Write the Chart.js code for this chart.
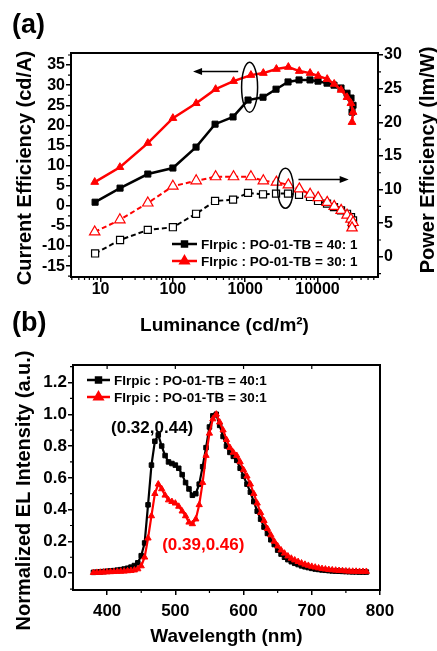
<!DOCTYPE html>
<html><head><meta charset="utf-8">
<script src="https://cdn.jsdelivr.net/npm/chart.js@4"></script>
<style>
html,body{margin:0;padding:0;background:#fff;}
body{width:437px;height:651px;position:relative;overflow:hidden;font-family:"Liberation Sans",Arial,sans-serif;}
canvas{position:absolute;left:0;}
#ca{top:0;}
#cb{top:340px;}
.panel{position:absolute;font-weight:bold;font-size:27px;line-height:30px;color:#000;}
</style></head><body>
<canvas id="ca" width="437" height="340"></canvas>
<canvas id="cb" width="437" height="311"></canvas>
<div class="panel" style="left:12px;top:9px">(a)</div>
<div class="panel" style="left:12px;top:307px">(b)</div>
<script>
// ---------- Panel (a) data ----------
const lumTicks = [10, 100, 1000, 10000];
const lumBlack = [8.4, 18.6, 45, 100, 209, 383, 679, 1094, 1763, 2668, 3910, 5550, 7870, 10160, 13530, 16900, 21130, 25580, 29040, 30970, 29990];
const ceBlack  = [0.9, 4.4, 7.9, 9.4, 14.6, 20.3, 22.1, 26.3, 27.0, 29.0, 30.8, 31.3, 31.3, 31.0, 30.5, 30.0, 29.3, 28.0, 26.8, 25.0, 23.3];
const peBlack  = [0.5, 2.5, 4.0, 4.4, 6.4, 8.3, 8.5, 9.5, 9.3, 9.4, 9.4, 9.2, 8.9, 8.3, 7.9, 7.4, 6.9, 6.4, 5.9, 5.4, 4.9];
const lumRed   = [8.3, 18.5, 45, 100, 210, 390, 690, 1200, 1780, 2700, 3950, 5600, 7900, 10200, 13600, 17000, 21200, 25600, 29000, 31000, 30000];
const ceRed    = [5.9, 9.6, 15.6, 21.8, 25.5, 29.0, 31.0, 32.5, 33.0, 34.0, 34.5, 33.5, 33.0, 32.3, 31.5, 30.3, 28.8, 27.0, 25.5, 23.3, 20.8];
const peRed    = [3.7, 5.5, 8.0, 10.5, 11.3, 11.9, 11.9, 11.9, 11.3, 11.1, 10.7, 10.1, 9.3, 8.8, 8.1, 7.5, 6.9, 6.2, 5.6, 5.1, 4.3];
const legendA  = ['FIrpic : PO-01-TB = 40: 1', 'FIrpic : PO-01-TB = 30: 1'];

// ---------- Panel (b) data ----------
const wavelength = [380,385,390,395,400,405,410,415,420,425,430,435,440,445,450,455,460,465,470,475,480,485,490,495,500,505,510,515,520,525,530,535,540,545,550,555,560,565,570,575,580,585,590,595,600,605,610,615,620,625,630,635,640,645,650,655,660,665,670,675,680,685,690,695,700,705,710,715,720,725,730,735,740,745,750,755,760,765,770,775,780];
const elBlack = [0.005,0.006,0.008,0.010,0.012,0.014,0.016,0.019,0.022,0.026,0.031,0.038,0.048,0.065,0.11,0.19,0.43,0.68,0.83,0.87,0.80,0.74,0.70,0.69,0.68,0.66,0.62,0.57,0.53,0.49,0.50,0.56,0.67,0.79,0.92,0.99,1.00,0.93,0.86,0.80,0.76,0.735,0.71,0.66,0.61,0.56,0.51,0.45,0.39,0.34,0.29,0.25,0.21,0.18,0.145,0.12,0.10,0.085,0.072,0.062,0.054,0.046,0.040,0.035,0.030,0.026,0.023,0.020,0.018,0.016,0.014,0.013,0.012,0.011,0.010,0.009,0.008,0.008,0.007,0.007,0.007];
const elRed   = [0.003,0.004,0.005,0.006,0.007,0.008,0.009,0.010,0.011,0.012,0.014,0.016,0.019,0.026,0.045,0.10,0.22,0.36,0.50,0.56,0.53,0.49,0.46,0.45,0.44,0.42,0.39,0.36,0.32,0.31,0.34,0.43,0.57,0.74,0.88,0.97,1.00,0.95,0.90,0.84,0.79,0.76,0.74,0.70,0.65,0.61,0.56,0.50,0.44,0.38,0.33,0.28,0.24,0.20,0.17,0.145,0.125,0.107,0.093,0.082,0.072,0.063,0.055,0.048,0.042,0.037,0.032,0.028,0.025,0.022,0.020,0.018,0.016,0.015,0.013,0.012,0.011,0.011,0.010,0.010,0.010];
const legendB = ['FIrpic : PO-01-TB = 40:1', 'FIrpic : PO-01-TB = 30:1'];
const cieBlack = '(0.32,0.44)';
const cieRed = '(0.39,0.46)';

const FONT = '"Liberation Sans", Arial, sans-serif';
const pts = (xs, ys) => xs.map((x, i) => ({x: x, y: ys[i]}));

function vText(ctx, text, x, y, size) {
  ctx.save(); ctx.translate(x, y); ctx.rotate(-Math.PI / 2);
  ctx.font = 'bold ' + size + 'px ' + FONT; ctx.fillStyle = '#000';
  ctx.textAlign = 'center'; ctx.textBaseline = 'middle';
  ctx.fillText(text, 0, 0); ctx.restore();
}
function arrow(ctx, x0, y0, x1, y1) {
  const dir = Math.sign(x1 - x0);
  ctx.beginPath(); ctx.moveTo(x0, y0); ctx.lineTo(x1 - dir * 7, y1); ctx.stroke();
  ctx.beginPath(); ctx.moveTo(x1, y1); ctx.lineTo(x1 - dir * 9, y1 - 3.5); ctx.lineTo(x1 - dir * 9, y1 + 3.5); ctx.closePath(); ctx.fill();
}
function legendRow(ctx, x, y, w, color, style, radius, text, size) {
  ctx.save();
  ctx.strokeStyle = color; ctx.fillStyle = color; ctx.lineWidth = 2.5;
  ctx.beginPath(); ctx.moveTo(x, y); ctx.lineTo(x + w, y); ctx.stroke();
  Chart.helpers.drawPoint(ctx, {pointStyle: style, radius: radius, borderWidth: 1, rotation: 0}, x + w / 2, y);
  ctx.fillStyle = '#000'; ctx.font = 'bold ' + size + 'px ' + FONT;
  ctx.textAlign = 'left'; ctx.textBaseline = 'middle';
  ctx.fillText(text, x + w + 4, y + 1);
  ctx.restore();
}
function tickSet(ctx, vals, fn) { ctx.beginPath(); vals.forEach(fn); ctx.stroke(); }

// minor tick values (axis decoration)
const minorLum = [];
[1, 10, 100, 1000, 10000].forEach(d => { for (let k = 2; k <= 9; k++) minorLum.push(k * d); });
const minorCE = [-17.5, -12.5, -7.5, -2.5, 2.5, 7.5, 12.5, 17.5, 22.5, 27.5, 32.5, 37.5];
const minorPE = [-2.5, 2.5, 7.5, 12.5, 17.5, 22.5, 27.5];
const minorWl = [350, 450, 550, 650, 750];
const minorEl = [-0.1, 0.1, 0.3, 0.5, 0.7, 0.9, 1.1, 1.3];

const decorA = {
  id: 'decorA',
  afterDraw(chart) {
    const {ctx, chartArea: a, scales: {x, y, y1}} = chart;
    ctx.save();
    ctx.strokeStyle = '#000'; ctx.fillStyle = '#000';
    ctx.lineWidth = 2; ctx.strokeRect(a.left, a.top, a.right - a.left, a.bottom - a.top);
    ctx.lineWidth = 1.2;
    tickSet(ctx, minorLum, v => { const p = x.getPixelForValue(v); if (p > a.left && p < a.right) { ctx.moveTo(p, a.bottom); ctx.lineTo(p, a.bottom + 3); } });
    tickSet(ctx, minorCE, v => { const p = y.getPixelForValue(v); if (p > a.top && p < a.bottom) { ctx.moveTo(a.left, p); ctx.lineTo(a.left - 3, p); } });
    tickSet(ctx, minorPE, v => { const p = y1.getPixelForValue(v); if (p > a.top && p < a.bottom) { ctx.moveTo(a.right, p); ctx.lineTo(a.right + 3, p); } });
    // ellipses and arrows
    ctx.lineWidth = 1.5;
    ctx.beginPath(); ctx.ellipse(x.getPixelForValue(1150), y.getPixelForValue(29.5), 8, 25, 0, 0, Math.PI * 2); ctx.stroke();
    ctx.beginPath(); ctx.ellipse(x.getPixelForValue(3600), y1.getPixelForValue(10.2), 8, 20, 0, 0, Math.PI * 2); ctx.stroke();
    arrow(ctx, x.getPixelForValue(800), y.getPixelForValue(33.4), x.getPixelForValue(190), y.getPixelForValue(33.4));
    arrow(ctx, x.getPixelForValue(5450), y1.getPixelForValue(11.5), x.getPixelForValue(27000), y1.getPixelForValue(11.5));
    // legend
    legendRow(ctx, a.left + 101, a.bottom - 33, 25, '#000', 'rect', 3.5, legendA[0], 13.5);
    legendRow(ctx, a.left + 101, a.bottom - 16, 25, '#ff0000', 'triangle', 4.5, legendA[1], 13.5);
    // vertical titles
    vText(ctx, 'Current Efficiency (cd/A)', 25, (a.top + a.bottom) / 2 + 3, 20);
    vText(ctx, 'Power Efficiency (lm/W)', 428, (a.top + a.bottom) / 2 - 5, 20);
    ctx.restore();
  }
};

const decorB = {
  id: 'decorB',
  afterDraw(chart) {
    const {ctx, chartArea: a, scales: {x, y}} = chart;
    ctx.save();
    ctx.strokeStyle = '#000'; ctx.fillStyle = '#000';
    ctx.lineWidth = 2; ctx.strokeRect(a.left, a.top, a.right - a.left, a.bottom - a.top);
    ctx.lineWidth = 1.2;
    tickSet(ctx, minorWl, v => { const p = x.getPixelForValue(v); if (p > a.left && p < a.right) { ctx.moveTo(p, a.bottom); ctx.lineTo(p, a.bottom + 3); } });
    tickSet(ctx, minorEl, v => { const p = y.getPixelForValue(v); if (p > a.top && p < a.bottom) { ctx.moveTo(a.left, p); ctx.lineTo(a.left - 3, p); } });
    tickSet(ctx, [400, 500, 600, 700], v => { const p = x.getPixelForValue(v); ctx.moveTo(p, a.top); ctx.lineTo(p, a.top + 4); });
    // legend
    legendRow(ctx, a.left + 14, a.top + 15, 23, '#000', 'rect', 3.5, legendB[0], 13.5);
    legendRow(ctx, a.left + 14, a.top + 32, 23, '#ff0000', 'triangle', 4.5, legendB[1], 13.5);
    // CIE annotations
    ctx.font = 'bold 17px ' + FONT; ctx.textAlign = 'center'; ctx.textBaseline = 'middle';
    ctx.fillStyle = '#000'; ctx.fillText(cieBlack, x.getPixelForValue(466), y.getPixelForValue(0.91));
    ctx.fillStyle = '#ff0000'; ctx.fillText(cieRed, x.getPixelForValue(541), y.getPixelForValue(0.175));
    vText(ctx, 'Normalized EL Intensity (a.u.)', 24, (a.top + a.bottom) / 2 + 13, 20);
    ctx.restore();
  }
};

const axisCommon = (size) => ({
  ticks: {font: {family: FONT, size: size, weight: 'bold'}, color: '#000', padding: 1, maxRotation: 0, autoSkip: false, includeBounds: false},
  grid: {display: true, drawOnChartArea: false, drawTicks: true, tickLength: 5, color: '#000', lineWidth: 1.5},
  border: {display: true, color: '#000', width: 2}
});
function merge(base, extra) {
  const o = Object.assign({}, base, extra);
  o.ticks = Object.assign({}, base.ticks, extra.ticks || {});
  return o;
}

new Chart(document.getElementById('ca'), {
  type: 'scatter',
  data: {datasets: [
    {data: pts(lumRed, ceRed), yAxisID: 'y', showLine: true, borderColor: '#ff0000', backgroundColor: '#ff0000', borderWidth: 2.5, pointStyle: 'triangle', pointRadius: 4.5, pointBorderWidth: 1, pointBackgroundColor: '#ff0000', pointBorderColor: '#ff0000'},
    {data: pts(lumBlack, ceBlack), yAxisID: 'y', showLine: true, borderColor: '#000', backgroundColor: '#000', borderWidth: 2.5, pointStyle: 'rect', pointRadius: 4.3, pointBorderWidth: 1, pointBackgroundColor: '#000', pointBorderColor: '#000'},
    {data: pts(lumRed, peRed), yAxisID: 'y1', showLine: true, borderColor: '#ff0000', borderWidth: 2, borderDash: [5, 3], pointStyle: 'triangle', pointRadius: 6, pointBorderWidth: 1.2, pointBackgroundColor: '#fff', pointBorderColor: '#ff0000'},
    {data: pts(lumBlack, peBlack), yAxisID: 'y1', showLine: true, borderColor: '#000', borderWidth: 2, borderDash: [5, 3], pointStyle: 'rect', pointRadius: 5, pointBorderWidth: 1.2, pointBackgroundColor: '#fff', pointBorderColor: '#000'}
  ]},
  options: {
    responsive: false, animation: false, devicePixelRatio: 1,
    layout: {padding: {top: 53, left: 0, right: 0, bottom: 0}},
    plugins: {legend: {display: false}, tooltip: {enabled: false}},
    scales: {
      x: merge(axisCommon(16), {type: 'logarithmic', position: 'bottom', min: 3.9, max: 68600,
        afterBuildTicks: s => { s.ticks = lumTicks.map(v => ({value: v})); },
        afterFit: s => { s.height = 63; },
        ticks: {callback: v => String(v), padding: -2},
        title: {display: true, text: 'Luminance (cd/m²)', color: '#000', font: {family: FONT, size: 19, weight: 'bold'}, padding: {top: 0, bottom: 3}}}),
      y: merge(axisCommon(16), {type: 'linear', position: 'left', min: -17.7, max: 38,
        afterFit: s => { s.width = 71; },
        ticks: {stepSize: 5}}),
      y1: merge(axisCommon(16), {type: 'linear', position: 'right', min: -3, max: 30.3,
        afterFit: s => { s.width = 59; },
        ticks: {stepSize: 5}})
    }
  },
  plugins: [decorA]
});

new Chart(document.getElementById('cb'), {
  type: 'scatter',
  data: {datasets: [
    {data: pts(wavelength, elRed), showLine: true, borderColor: '#ff0000', backgroundColor: '#ff0000', borderWidth: 2.2, pointStyle: 'triangle', pointRadius: 3.6, pointBorderWidth: 1, pointBackgroundColor: '#ff0000', pointBorderColor: '#ff0000'},
    {data: pts(wavelength, elBlack), showLine: true, borderColor: '#000', backgroundColor: '#000', borderWidth: 2.2, pointStyle: 'rect', pointRadius: 3.2, pointBorderWidth: 1, pointBackgroundColor: '#000', pointBorderColor: '#000'}
  ]},
  options: {
    responsive: false, animation: false, devicePixelRatio: 1,
    layout: {padding: {top: 25, left: 0, right: 57, bottom: 0}},
    plugins: {legend: {display: false}, tooltip: {enabled: false}},
    scales: {
      x: merge(axisCommon(17), {type: 'linear', position: 'bottom', min: 350, max: 800,
        afterFit: s => { s.height = 61; },
        ticks: {stepSize: 100, padding: 6},
        title: {display: true, text: 'Wavelength (nm)', color: '#000', font: {family: FONT, size: 19, weight: 'bold'}, padding: {top: 0, bottom: 3}}}),
      y: merge(axisCommon(17), {type: 'linear', position: 'left', min: -0.106, max: 1.31,
        afterFit: s => { s.width = 73; },
        ticks: {stepSize: 0.2, callback: v => Number(v).toFixed(1)}})
    }
  },
  plugins: [decorB]
});
</script>
</body></html>
